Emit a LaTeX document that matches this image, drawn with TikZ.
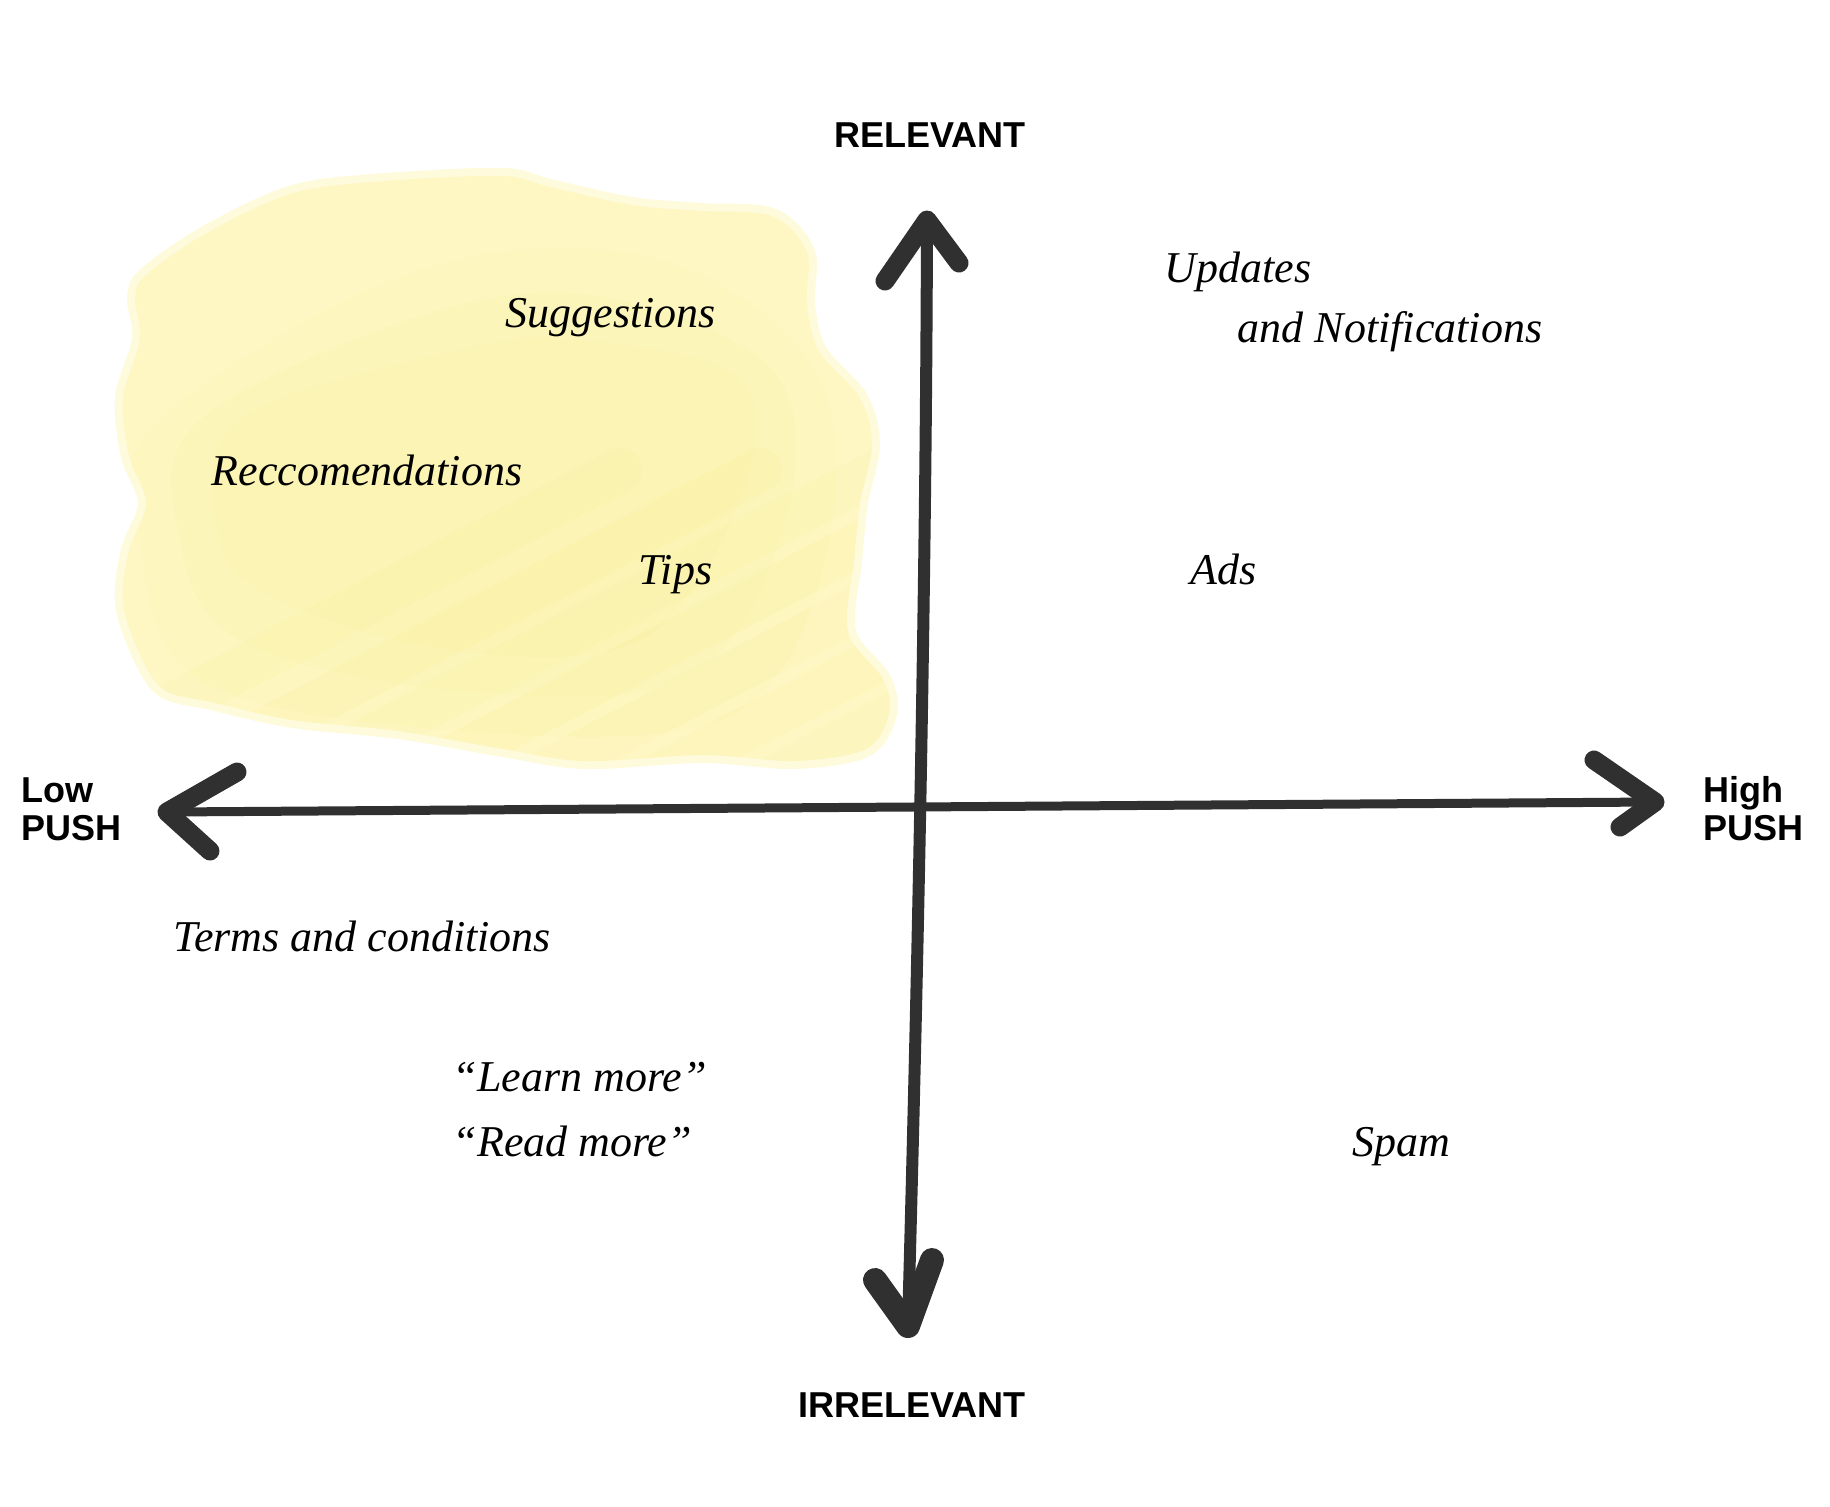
\documentclass[tikz,border=0pt]{standalone}
\usepackage{fontspec}
\setmainfont{Liberation Serif}
\newfontfamily\headfont{Liberation Sans}
\newfontfamily\notefont{Liberation Serif}

\definecolor{marker}{RGB}{48,48,48}
\definecolor{hilite}{RGB}{254,247,196}
\definecolor{hilitedeep}{RGB}{250,234,120}

\tikzset{every picture/.style={line width=0.75pt}}
\tikzset{
  axis shaft/.style={draw=marker, line width=5pt, line cap=round},
  axis barb/.style={draw=marker, line width=9.5pt, line cap=round, line join=round},
  axis label/.style={inner sep=0pt, align=left, font=\headfont\bfseries\fontsize{18}{19}\selectfont},
  item label/.style={inner sep=0pt, anchor=base west, font=\notefont\itshape\fontsize{22}{26}\selectfont},
}

\begin{document}
\begin{tikzpicture}[x=0.5pt,y=0.5pt,yscale=-1,xscale=1]
\useasboundingbox (0,0) rectangle (1830,1506);

%Shape: highlighted quadrant
\def\blob{plot[smooth cycle, tension=0.55] coordinates {(146,275) (205,234) (293,193) (386,181) (503,176) (550,187) (632,205) (702,211) (772,216) (807,252) (807,304) (819,351) (860,398) (872,445) (860,503) (854,562) (848,632) (883,679) (889,714) (866,749) (796,761) (702,755) (585,761) (503,749) (398,731) (293,720) (211,702) (164,690) (140,655) (123,603) (129,550) (146,503) (129,456) (123,398) (140,339) (135,298)}}
\draw [hilite, line width=8pt, opacity=0.6] \blob ;
\fill [hilite] \blob ;
\begin{scope}
\clip \blob ;
%inner wash, deeper towards the lower left
\foreach \g in {0,40,80} {
  \fill [hilitedeep, opacity=0.07] plot[smooth cycle, tension=0.6] coordinates {({160+\g},420) ({420+\g/2},{270+\g}) ({660-\g},{260+\g}) ({820-\g},380) ({820-\g},{580-\g}) ({720-\g},{720-\g}) (450,{730-\g}) ({200+\g},{680-\g}) ({140+\g},540)};
}
\foreach \s/\o in {-200/0.08, -60/0.11, 60/0.08, 180/0.12, 300/0.09, 420/0.11, 540/0.08, 660/0.09} {
  \draw [hilitedeep, line width=22pt, line cap=round, opacity=\o] (\s,900) -- ++(820,-430) ;
}
\end{scope}

%Coordinates: arrow tips and barbs
\coordinate (top) at (927,220);
\coordinate (top-l) at (885,281);
\coordinate (top-r) at (959,263);
\coordinate (bot) at (908,1326);
\coordinate (bot-l) at (875,1280);
\coordinate (bot-r) at (932,1260);
\coordinate (left) at (167,812);
\coordinate (left-u) at (237,772);
\coordinate (left-d) at (210,851);
\coordinate (right) at (1655,802);
\coordinate (right-u) at (1594,760);
\coordinate (right-d) at (1620,827);

%Straight Lines: push axis
\draw [axis shaft, line width=4.5pt] (left) -- (right) ;
%Curve Lines: relevance axis
\draw [axis shaft, line width=6pt] (bot) .. controls (917,1000) and (926,600) .. (top) ;
%Arrow heads
\draw [axis barb] (top-l) -- (top) -- (top-r) ;
\draw [axis barb, line width=12pt] (bot-l) -- (bot) -- (bot-r) ;
\draw [axis barb] (left-u) -- (left) -- (left-d) ;
\draw [axis barb] (right-u) -- (right) -- (right-d) ;

% Text Node
\node [axis label, anchor=base] (relevant) at (930,147) {RELEVANT};
% Text Node
\node [axis label, anchor=base] (irrelevant) at (912,1417) {IRRELEVANT};
% Text Node
\node [axis label, anchor=base west] (lowpush) at (21,840) {Low\\PUSH};
% Text Node
\node [axis label, anchor=base west] (highpush) at (1703,840) {High\\PUSH};

% Text Node
\node [item label] (suggest) at (505,327) {Suggestions};
% Text Node
\node [item label] (recco) at (211,485) {Reccomendations};
% Text Node
\node [item label] (tips) at (638,584) {Tips};
% Text Node
\node [item label] (updates) at (1164,282) {Updates};
% Text Node
\node [item label] (notif) at (1237,342) {and Notifications};
% Text Node
\node [item label] (ads) at (1190,584) {Ads};
% Text Node
\node [item label] (terms) at (173,951) {Terms and conditions};
% Text Node
\node [item label] (learn) at (452,1091) {“Learn more”};
% Text Node
\node [item label] (read) at (452,1156) {“Read more”};
% Text Node
\node [item label] (spam) at (1352,1156) {Spam};

\end{tikzpicture}
\end{document}
